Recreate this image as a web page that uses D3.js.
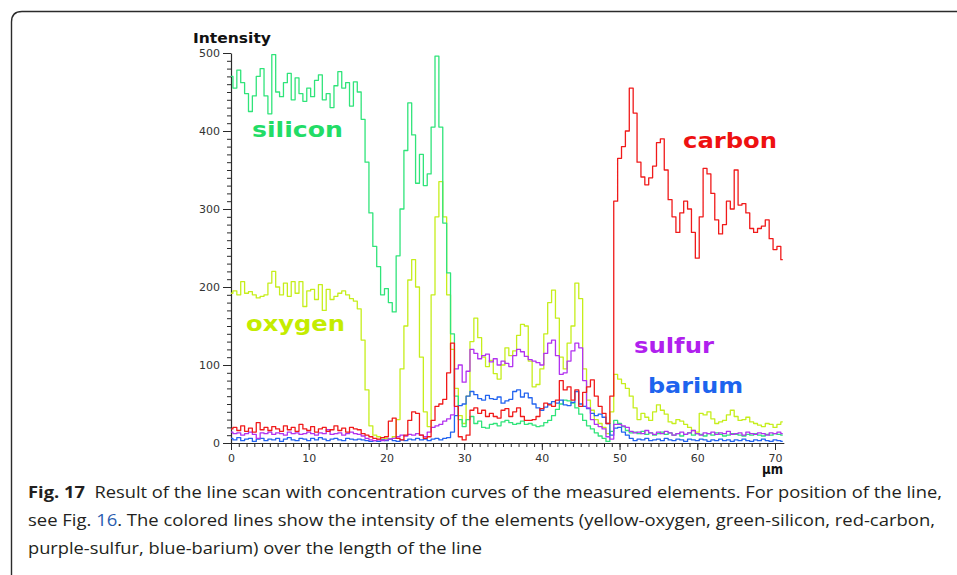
<!DOCTYPE html>
<html>
<head>
<meta charset="utf-8">
<script src="https://cdn.jsdelivr.net/npm/d3@7"></script>
<style>
  html, body { margin: 0; padding: 0; background: #fff; }
  svg { display: block; }
</style>
</head>
<body>
<svg id="fig" width="957" height="575"></svg>
<script>
// Line scan: intensity of each element sampled every 0.5 µm from 0 to 71 µm.
const STEP = 0.5;

// one row = 5 µm (10 samples)
const silicon = [
  470,455,478,462,448,425,445,470,480,445,
  422,498,450,444,462,474,440,468,448,438,
  455,444,465,472,440,448,430,458,476,455,
  462,432,463,450,415,360,295,252,226,190,
  198,180,168,240,300,375,436,395,333,370,
  330,345,405,496,405,282,218,140,60,30,
  21,30,34,25,28,20,19,24,25,22,
  27,29,26,24,25,28,24,25,23,21,
  22,26,29,35,43,50,55,54,51,45,
  37,29,22,18,13,9,6,2,15,29,
  25,21,16,13,14,12,15,11,13,10,
  12,14,11,13,10,12,9,11,13,10,
  12,11,9,12,10,13,11,9,10,12,
  11,10,9,11,10,12,10,9,11,10,
  12,11,10
];

const oxygen = [
  192,195,190,207,192,194,190,186,188,190,
  205,220,200,190,205,188,207,192,207,175,
  195,197,184,203,170,197,184,188,192,195,
  190,185,182,172,132,68,22,10,8,5,
  6,5,8,30,95,150,209,235,200,110,
  40,21,190,290,335,290,190,120,70,35,
  25,60,130,160,135,110,98,106,89,82,
  100,122,112,118,138,152,150,105,72,75,
  95,140,180,196,160,110,95,128,150,205,
  185,95,55,42,30,25,20,12,40,88,
  82,76,70,60,45,30,38,33,29,40,
  49,42,37,27,25,30,28,24,20,16,
  14,38,36,40,31,25,27,29,36,42,
  34,29,30,33,27,25,23,21,25,24,
  20,24,27
];

const carbon = [
  18,20,16,22,15,19,14,26,17,20,
  16,21,18,15,22,17,20,15,24,18,
  16,21,14,18,20,15,17,22,16,19,
  14,20,18,17,12,10,8,6,5,7,
  8,28,32,6,4,10,29,40,38,10,
  6,8,29,47,50,56,90,128,47,8,
  4,10,42,45,38,42,34,38,34,32,
  42,44,34,40,45,34,29,29,30,34,
  44,51,49,47,55,80,68,72,55,68,
  47,65,72,81,60,47,38,25,60,310,
  365,380,400,455,423,360,341,331,340,355,
  385,390,350,312,290,270,295,310,300,270,
  237,290,352,345,320,286,268,280,310,300,
  350,305,307,295,275,270,275,278,286,262,
  248,252,235
];

const sulfur = [
  14,12,13,10,12,14,11,6,13,12,
  14,11,13,12,10,14,12,13,11,12,
  14,12,10,13,12,17,11,12,13,10,
  12,14,12,11,9,6,4,3,4,3,
  4,5,6,8,10,9,11,10,12,10,
  8,14,20,22,24,28,31,36,95,100,
  78,92,120,115,108,112,114,104,108,100,
  105,102,98,112,120,117,111,107,105,103,
  100,115,128,132,112,88,90,105,118,128,
  122,80,45,30,24,21,18,8,5,24,
  24,22,20,15,13,14,12,16,13,11,
  14,12,15,13,10,12,14,11,13,16,
  12,10,13,12,14,11,13,12,15,11,
  12,13,10,14,12,11,13,12,10,13,
  12,14,12
];

const barium = [
  6,4,7,3,5,6,2,5,6,3,
  5,4,6,2,5,7,4,3,6,5,
  3,6,4,7,5,3,5,6,4,3,
  6,5,4,5,4,3,2,3,2,4,
  3,5,3,2,4,3,5,4,6,4,
  5,3,5,6,4,6,7,14,35,48,
  50,60,66,62,57,55,61,57,56,59,
  51,54,56,66,68,59,64,58,50,45,
  42,46,50,53,51,55,49,48,52,66,
  50,47,44,38,35,37,33,25,10,19,
  20,14,10,6,3,5,4,6,3,4,
  5,3,6,4,3,5,4,2,5,4,
  3,5,4,2,4,3,5,3,4,2,
  4,3,5,3,2,4,3,5,3,2,
  4,3,2
];

const xTicks = [0, 10, 20, 30, 40, 50, 60, 70];
const yTicks = [0, 100, 200, 300, 400, 500];
const yTitle = "Intensity";
const xUnit = "µm";

// drawing order: oxygen underneath, carbon on top
const series = [
  { name: "oxygen",  values: oxygen,  line: "#c6ee1c", label: "#c4ec00", lx: 246, ly: 331, lw: 99 },
  { name: "silicon", values: silicon, line: "#30e47a", label: "#22dc66", lx: 252, ly: 137, lw: 91 },
  { name: "barium",  values: barium,  line: "#2264f0", label: "#1e64ee", lx: 648, ly: 393, lw: 95 },
  { name: "sulfur",  values: sulfur,  line: "#b232f0", label: "#b020ee", lx: 634, ly: 353, lw: 80 },
  { name: "carbon",  values: carbon,  line: "#f01a1a", label: "#ee1111", lx: 683, ly: 148, lw: 94 }
];

const svg = d3.select("#fig");

// framed figure panel (rounded top-left corner)
svg.append("path")
  .attr("d", "M11.5,580 V22 Q11.5,11.5 22,11.5 H970")
  .attr("fill", "none")
  .attr("stroke", "#2b2b2b")
  .attr("stroke-width", 1.4);

const x = d3.scaleLinear().domain([0, 70]).range([231, 775]);
const y = d3.scaleLinear().domain([0, 500]).range([443, 53]);

const axisColor = "#2a2a2a";
const tickFont = "DejaVu Sans, Verdana, sans-serif";

// y axis: minor ticks every 10, labelled ticks every 100
const yMinor = svg.append("g").attr("transform", "translate(231,0)")
  .call(d3.axisLeft(y).tickValues(d3.range(0, 501, 10)).tickSize(4).tickFormat(""));
const yMajor = svg.append("g").attr("transform", "translate(231,0)")
  .call(d3.axisLeft(y).tickValues(yTicks).tickSize(8).tickSizeOuter(0).tickPadding(3));

// x axis: minor ticks every 1 µm, labelled ticks every 10 µm
const xMinor = svg.append("g").attr("transform", "translate(0,443)")
  .call(d3.axisBottom(x).tickValues(d3.range(0, 71, 1)).tickSize(4).tickFormat(""));
const xMajor = svg.append("g").attr("transform", "translate(0,443)")
  .call(d3.axisBottom(x).tickValues(xTicks).tickSize(7).tickSizeOuter(0).tickPadding(4));

[yMinor, yMajor, xMinor, xMajor].forEach(g => {
  g.selectAll("line").attr("stroke", axisColor).attr("stroke-width", 1);
  g.selectAll("text").attr("fill", "#333").style("font-family", tickFont).style("font-size", "11px");
});
[yMinor, xMinor, xMajor].forEach(g => g.select(".domain").remove());
yMajor.select(".domain").attr("stroke", axisColor).attr("stroke-width", 1.2);

// baseline runs slightly past the last tick, to the end of the scan
svg.append("line")
  .attr("x1", x(0)).attr("x2", x(71.2))
  .attr("y1", 443.5).attr("y2", 443.5)
  .attr("stroke", axisColor).attr("stroke-width", 1.2);

// axis titles
svg.append("text")
  .attr("x", 193).attr("y", 43)
  .attr("textLength", 78).attr("lengthAdjust", "spacingAndGlyphs")
  .style("font-family", "DejaVu Sans, Verdana, sans-serif")
  .style("font-weight", "bold").style("font-size", "14px")
  .attr("fill", "#111").text(yTitle);

svg.append("text")
  .attr("x", 762).attr("y", 474)
  .attr("textLength", 21).attr("lengthAdjust", "spacingAndGlyphs")
  .style("font-family", "DejaVu Sans, Verdana, sans-serif")
  .style("font-weight", "bold").style("font-size", "14px")
  .attr("fill", "#111").text(xUnit);

// element curves
const line = d3.line()
  .x((d, i) => x(i * STEP))
  .y(d => y(d))
  .curve(d3.curveStep);

svg.append("g").selectAll("path")
  .data(series)
  .join("path")
  .attr("d", d => line(d.values))
  .attr("fill", "none")
  .attr("stroke", d => d.line)
  .attr("stroke-width", 1.3)
  .attr("stroke-linejoin", "round");

// element names beside their curves
svg.append("g").selectAll("text")
  .data(series)
  .join("text")
  .attr("x", d => d.lx).attr("y", d => d.ly)
  .attr("textLength", d => d.lw).attr("lengthAdjust", "spacingAndGlyphs")
  .style("font-family", "DejaVu Sans, Verdana, sans-serif")
  .style("font-weight", "bold").style("font-size", "21px")
  .attr("fill", d => d.label)
  .text(d => d.name);

// caption: each line is laid out from its runs, then squeezed to its measured span
const captionLines = [
  { y: 498, x0: 28, x1: 942, runs: [
      { t: "Fig. 17", bold: true },
      { t: "  Result of the line scan with concentration curves of the measured elements. For position of the line," } ] },
  { y: 526, x0: 28, x1: 935, runs: [
      { t: "see Fig. " },
      { t: "16", color: "#2a5db0" },
      { t: ". The colored lines show the intensity of the elements (yellow-oxygen, green-silicon, red-carbon," } ] },
  { y: 554, x0: 28, x1: 482, runs: [
      { t: "purple-sulfur, blue-barium) over the length of the line" } ] }
];

const caption = svg.append("g")
  .style("font-family", "Open Sans, Noto Sans, sans-serif")
  .style("font-size", "16.5px");

captionLines.forEach(ln => {
  const nodes = ln.runs.map(r => caption.append("text")
    .attr("y", ln.y)
    .style("white-space", "pre")
    .style("font-weight", r.bold ? "bold" : "normal")
    .attr("fill", r.color || "#231f20")
    .text(r.t));
  const widths = nodes.map(n => n.node().getComputedTextLength());
  const k = (ln.x1 - ln.x0) / d3.sum(widths);
  let cx = ln.x0;
  nodes.forEach((n, i) => {
    n.attr("x", cx)
     .attr("textLength", widths[i] * k)
     .attr("lengthAdjust", "spacingAndGlyphs");
    cx += widths[i] * k;
  });
});
</script>
</body>
</html>
